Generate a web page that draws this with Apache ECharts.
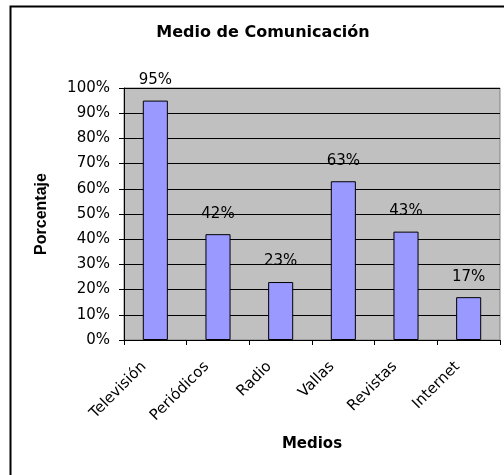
<!DOCTYPE html>
<html><head><meta charset="utf-8">
<script src="https://cdn.jsdelivr.net/npm/echarts@6/dist/echarts.min.js"></script>
<style>html,body{margin:0;padding:0;background:#fff}#c{width:504px;height:475px}</style>
</head><body><div id="c"></div>
<script>
const categories = ['Televisión','Periódicos','Radio','Vallas','Revistas','Internet'];
const values = [95, 42, 23, 63, 43, 17];
const yTicks = [0,10,20,30,40,50,60,70,80,90,100];

const chart = echarts.init(document.getElementById('c'));
const F = '"DejaVu Sans", sans-serif';
const FA = '"Liberation Sans", Arial, sans-serif';
chart.setOption({
  animation: false,
  backgroundColor: '#fff',
  title: {
    text: 'Medio de Comunicación', left: 258, top: 20, textAlign: 'center',
    textStyle: { fontFamily: F, fontSize: 16, fontWeight: 'bold', color: '#000' }
  },
  graphic: [{
    type: 'rect', shape: { x: 10.5, y: 6.5, width: 520, height: 500 },
    style: { fill: 'none', stroke: '#000', lineWidth: 2 }, z: -1
  }],
  grid: { left: 124, right: 4, top: 88, bottom: 135, show: true, backgroundColor: '#C0C0C0', borderColor: '#808080', borderWidth: 1 },
  xAxis: {
    type: 'category', data: categories,
    name: 'Medios', nameLocation: 'middle', nameGap: 97,
    nameTextStyle: { fontFamily: F, fontSize: 15, fontWeight: 'bold', color: '#000' },
    axisLine: { lineStyle: { color: '#000', width: 1 } },
    axisTick: { show: true, length: 5, lineStyle: { color: '#000' } },
    axisLabel: { rotate: 45, fontFamily: F, fontSize: 15, color: '#000', margin: 13, padding: [0, 16, 0, 0] }
  },
  yAxis: {
    type: 'value', min: 0, max: 100, interval: 10,
    name: 'Porcentaje', nameLocation: 'middle', nameGap: 74,
    nameTextStyle: { fontFamily: FA, fontSize: 16, fontWeight: 'bold', color: '#000' },
    axisLine: { show: true, lineStyle: { color: '#000' } },
    axisTick: { show: true, length: 5, lineStyle: { color: '#000' } },
    axisLabel: { fontFamily: F, fontSize: 15, color: '#000', margin: 14,
      formatter: v => yTicks.includes(v) ? v + '%' : '' },
    splitLine: { show: true, lineStyle: { color: '#000', width: 1 } }
  },
  series: [{
    type: 'bar', data: values, barWidth: '40%',
    itemStyle: { color: '#9999FF', borderColor: '#000', borderWidth: 1 },
    label: { show: true, position: 'top', distance: 13, formatter: '{c}%',
      fontFamily: F, fontSize: 15, color: '#000' }
  }]
});
</script></body></html>
